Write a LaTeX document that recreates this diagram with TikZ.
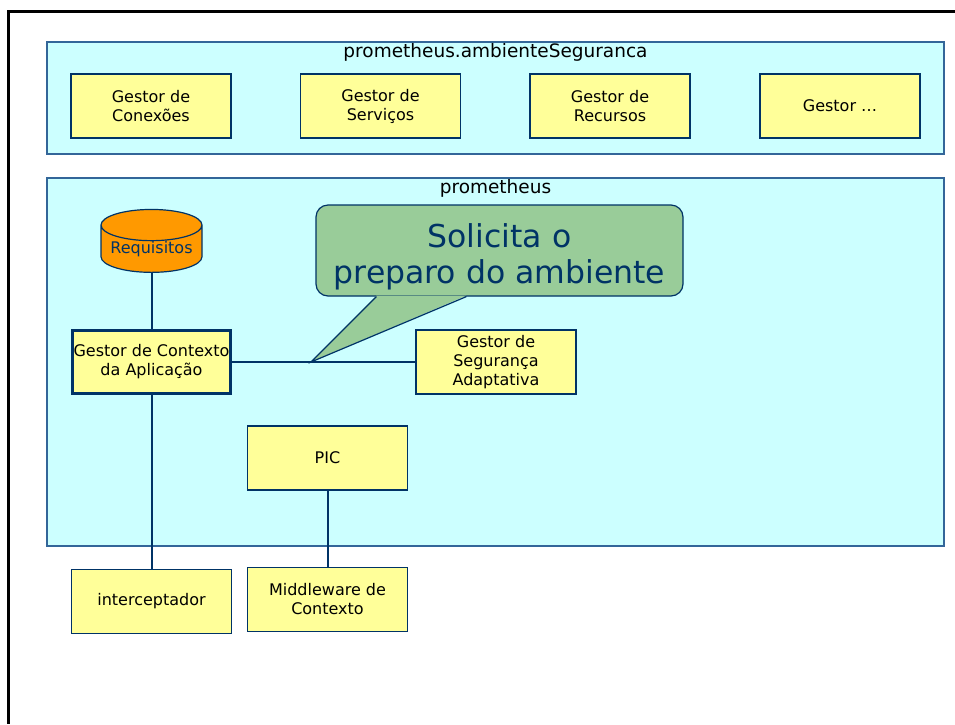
\documentclass[tikz,border=0pt]{standalone}
\usepackage{fontspec}
\setmainfont{DejaVu Sans}
\usetikzlibrary{shapes.geometric}
\definecolor{fundociano}{HTML}{CCFFFF}
\definecolor{bordaazul}{HTML}{336699}
\definecolor{marinho}{HTML}{003366}
\definecolor{amarelo}{HTML}{FFFF99}
\definecolor{laranja}{HTML}{FF9900}
\definecolor{verde}{HTML}{99CC99}

\begin{document}
\begin{tikzpicture}[x=1pt,y=-1pt,
    camada/.style={draw=bordaazul, line width=1.5pt, fill=fundociano, inner sep=0pt},
    titulo/.style={anchor=north, inner sep=2pt, font=\fontsize{18.5}{22}\selectfont},
    caixa/.style={draw=marinho, line width=1.3pt, fill=amarelo, minimum width=160, minimum height=64,
        inner sep=0pt, align=center, font=\fontsize{16}{19}\selectfont},
    ligacao/.style={draw=marinho, line width=2pt}]
    \useasboundingbox (0,0) rectangle (955,724);
    \draw[line width=3pt] (955,11) -- (8.5,11) -- (8.5,724);

    % ambiente de seguranca
    \node[camada, minimum width=897, minimum height=112] (ambiente) at (495.5,98) {};
    \node[titulo] (ambtitulo) at (ambiente.north) {prometheus.ambienteSeguranca};
    \foreach \x/\nome/\txt in {151/conexoes/{Gestor de\\Conexões}, 380.5/servicos/{Gestor de\\Serviços},
                              610/recursos/{Gestor de\\Recursos}, 840/outros/{Gestor …}}
        \node[caixa] (\nome) at (\x,106) {\txt};

    % prometheus
    \node[camada, minimum width=897, minimum height=368] (prom) at (495.5,362) {};
    \node[titulo] (promtitulo) at (prom.north) {prometheus};
    \node[cylinder, shape border rotate=90, aspect=0.38, draw=marinho, line width=1.2pt, fill=laranja,
        minimum width=101, minimum height=59, inner sep=0pt, text=marinho,
        font=\fontsize{16}{19}\selectfont] (req) at (151.5,249) {Requisitos};
    \node[caixa, line width=3.5pt, minimum width=158, minimum height=63] (contexto) at (151.5,362)
        {Gestor de Contexto\\da Aplicação};
    \node[caixa] (seguranca) at (496,362) {Gestor de\\Segurança\\Adaptativa};
    \node[caixa] (pic) at (327.5,458) {PIC};
    \node[caixa] (intercep) at (151.5,601.5) {interceptador};
    \node[caixa] (middleware) at (327.5,599.5) {Middleware de\\Contexto};

    \draw[ligacao] (req.south) -- (contexto.north);
    \draw[ligacao] (contexto) -- (seguranca);
    \draw[ligacao] (contexto.south) -- (intercep.north);
    \draw[ligacao] (pic) -- (middleware);

    % balao
    \node[draw=marinho, line width=1.2pt, fill=verde, rounded corners=12, minimum width=367,
        minimum height=91] (balao) at (499.5,250.5) {};
    \coordinate (ponta) at (311,362);
    \fill[verde] ([xshift=61pt,yshift=1pt]balao.south west) -- (ponta)
        -- ([xshift=151pt,yshift=1pt]balao.south west) -- cycle;
    \draw[marinho, line width=1.2pt] ([xshift=61pt]balao.south west) -- (ponta)
        -- ([xshift=151pt]balao.south west);
    \node[align=center, text=marinho, font=\fontsize{31.5}{36.5}\selectfont] (baltexto)
        at (499.5,257) {Solicita o\\preparo do ambiente};
\end{tikzpicture}
\end{document}
